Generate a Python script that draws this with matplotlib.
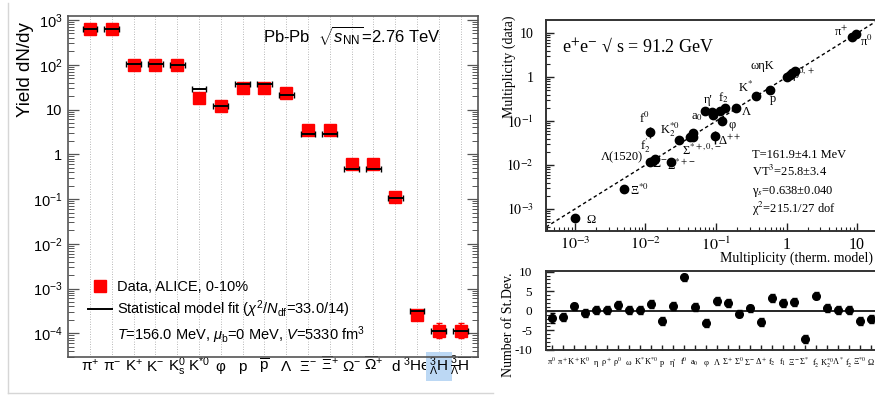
"""Two-panel thermal-model comparison: ALICE Pb-Pb yields (left) and e+e- multiplicities (right)."""

import matplotlib
matplotlib.use("Agg")
import matplotlib.pyplot as plt
import numpy as np
from matplotlib.lines import Line2D
from matplotlib.ticker import LogLocator, NullFormatter, MultipleLocator

plt.rcParams["font.family"] = ["Liberation Sans", "DejaVu Sans"]
plt.rcParams["mathtext.fontset"] = "custom"
plt.rcParams["mathtext.rm"] = "Liberation Sans"
plt.rcParams["mathtext.it"] = "Liberation Sans:italic"
plt.rcParams["mathtext.bf"] = "Liberation Sans:bold"

W, H = 875, 396
SERIF = "Liberation Serif"

# ── Left panel: Pb-Pb yields ───────────────────────────────────────────────
SPECIES = ["π$^{+}$", "π$^{-}$", "K$^{+}$", "K$^{-}$", r"K$^{0}_{\mathrm{s}}$", "K$^{*0}$",
           "φ", "p", r"$\overline{\mathrm{p}}$", "Λ", "Ξ$^{-}$", r"$\overline{\mathrm{Ξ}}^{+}$",
           "Ω$^{-}$", r"$\overline{\mathrm{Ω}}^{+}$", "d", "$^{3}$He",
           r"$^{3}_{\mathrm{Λ}}\mathrm{H}$", r"$^{3}_{\overline{\mathrm{Λ}}}\overline{\mathrm{H}}$"]
YIELD_DATA = [640, 640, 100, 100, 98, 18, 12.3, 30, 30, 23.5, 3.4, 3.4, 0.6, 0.6,
              0.11, 2.5e-4, 1.15e-4, 1.15e-4]
YIELD_ERR_LO = [20, 20, 4, 4, 4, 1.5, 0.8, 1.5, 1.5, 1.5, 0.2, 0.2, 0.05, 0.05,
                0.01, 0.3e-4, 0.37e-4, 0.37e-4]
YIELD_ERR_HI = [20, 20, 4, 4, 4, 1.5, 0.8, 1.5, 1.5, 1.5, 0.2, 0.2, 0.05, 0.05,
                0.01, 0.2e-4, 0.55e-4, 0.55e-4]
YIELD_MODEL = [620, 620, 102, 102, 100, 29, 12, 37, 37, 21.5, 2.8, 2.8, 0.48, 0.48,
               0.105, 3.2e-4, 1.1e-4, 1.1e-4]

# ── Right top: e+e- multiplicities (model vs data) ─────────────────────────
MULT_MODEL = [1.0e-3, 5.0e-3, 0.0117, 0.0129, 0.0138, 0.0115, 0.0229, 0.0297, 0.0427,
              0.0468, 0.0479, 0.0708, 0.087, 0.091, 0.112, 0.133, 0.123, 0.098, 0.19,
              0.363, 0.59, 1.02, 1.10, 1.20, 1.30, 8.5, 9.6]
MULT_DATA = [6.2e-4, 2.8e-3, 0.0115, 0.0126, 0.0138, 0.057, 0.0119, 0.0376, 0.0427,
             0.055, 0.0427, 0.17, 0.158, 0.138, 0.17, 0.195, 0.10, 0.0447, 0.20,
             0.363, 0.51, 1.02, 1.12, 1.25, 1.38, 8.4, 9.5]
MULT_ERR = [6e-5, 3e-4, 1.2e-3, 2e-3, 1.4e-3, 0.015, 1.2e-3, 7e-3, 4e-3, 8e-3, 4e-3,
            0.035, 0.025, 0.028, 0.025, 0.02, 0.008, 0.014, 0.01, 0.018, 0.025,
            0.05, 0.05, 0.06, 0.07, 0.25, 0.28]

# particle annotations (text, x, y in data coords)
MULT_NOTES = [
    ("π$^{+}$", 6.0, 10.9), ("π$^{0}$", 13.3, 6.4), ("ωηK", 0.46, 1.75),
    ("ρ$^{0,+}$", 1.75, 1.13), ("K$^{*}$", 0.26, 0.59), ("p", 0.64, 0.32),
    ("Λ", 0.27, 0.158), ("φ", 0.171, 0.083), ("Δ$^{++}$", 0.155, 0.036),
    ("η'", 0.0765, 0.295), ("f$_{2}$", 0.126, 0.35), ("a$_{0}$", 0.053, 0.127),
    ("f$^{0}$", 0.0095, 0.117), ("K$_{2}^{*0}$", 0.0221, 0.063),
    ("Σ$^{*+,0,-}$", 0.064, 0.021), (r"f$_{2}^{\prime}$", 0.0098, 0.028),
    ("Λ(1520)", 0.0047, 0.0148), ("Ξ$^{-}$", 0.0159, 0.0103),
    ("Σ$^{*+-}$", 0.0324, 0.0098), ("Ξ$^{*0}$", 0.0083, 0.0026),
    ("Ω", 0.0017, 5.7e-4),
]
FIT_TEXT = ["T=161.9±4.1 MeV", "VT$^{3}$=25.8±3.4",
            "γ$_{s}$=0.638±0.040", "χ$^{2}$=215.1/27 dof"]

# ── Right bottom: deviations in standard deviations ────────────────────────
DEV_LABELS = ["π$^0$", "π$^+$", "K$^+$", "K$^0$", "η", "ρ$^+$", "ρ$^0$", "ω", "K$^{*}$",
              "K$^{*0}$", "p", "η'", "f$^0$", "a$_0$", "φ", "Λ", "Σ$^+$", "Σ$^0$", "Σ$^-$",
              "Δ$^+$", "f$_2$", "f$_1$", "Ξ$^-$", "Σ$^*$", r"f$_2^{\prime}$", "K$_2^{*0}$",
              "Λ$^*$", r"f$_2^{\prime}$", "Ξ$^{*0}$", "Ω"]
DEV_VALUES = [-1.8, -1.5, 1.1, -0.6, 0.2, 0.2, 1.5, 0.2, 0.2, 1.75, -2.5, 1.3, 8.5, 0.9,
              -3.1, 2.6, 2.0, -0.7, 0.6, -2.8, 3.2, 2.0, 2.2, -7.3, 3.9, 0.7, 0.2, 0.2,
              -2.6, -2.2]
DEV_ERR = [1.2, 1.0, 1.0, 1.0, 1.0, 1.0, 1.0, 1.0, 1.0, 1.0, 1.0, 1.0, 1.0, 1.0, 1.0,
           1.0, 1.0, 1.0, 1.0, 1.0, 1.0, 1.0, 1.0, 1.0, 1.0, 1.0, 1.0, 1.0, 1.0, 1.0]


def px_rect(x0, y0, x1, y1):
    """Axes rectangle from pixel corners (origin top-left)."""
    return [x0 / W, 1 - y1 / H, (x1 - x0) / W, (y1 - y0) / H]


def main() -> None:
    fig = plt.figure(figsize=(W / 100, H / 100), dpi=100)

    # light frame around the left figure
    fig.add_artist(Line2D([8 / W, 8 / W], [1 - 3 / H, 1 - 393 / H], color="#d6d6d6",
                          lw=1, transform=fig.transFigure))
    fig.add_artist(Line2D([8 / W, 493 / W], [1 - 393 / H, 1 - 393 / H], color="#d6d6d6",
                          lw=1, transform=fig.transFigure))

    # ── Left panel ─────────────────────────────────────────────────────────
    ax = fig.add_axes(px_rect(68, 16, 478, 357))
    x = np.arange(len(SPECIES))
    for xi in x:
        ax.axvline(xi, color="#a0a0a0", ls=(0, (1, 2)), lw=0.6, zorder=0)
    ax.errorbar(x, YIELD_DATA, yerr=[YIELD_ERR_LO, YIELD_ERR_HI], fmt="s", color="red",
                mec="red", ms=8, ecolor="red", elinewidth=1.2, capsize=2, zorder=2)
    ax.errorbar(x, YIELD_MODEL, xerr=0.34, fmt="none", ecolor="black", elinewidth=1.4,
                capsize=2, capthick=1.0, zorder=3)

    ax.set_yscale("log")
    ax.set_xlim(-1.01, 17.8)
    ax.set_ylim(10 ** -4.53, 10 ** 3.09)
    ax.set_yticks([1e-4, 1e-3, 1e-2, 1e-1, 1, 10, 100, 1000])
    ax.set_yticklabels([r"$10^{-4}$", r"$10^{-3}$", r"$10^{-2}$", r"$10^{-1}$", "1", "10",
                        r"$10^{2}$", r"$10^{3}$"], fontsize=10.5)
    ax.yaxis.set_minor_locator(LogLocator(base=10, subs=np.arange(2, 10), numticks=20))
    ax.yaxis.set_minor_formatter(NullFormatter())
    ax.tick_params(axis="y", which="both", direction="in", left=True, right=True, pad=4)
    ax.tick_params(axis="y", which="major", length=8, width=0.9, color="#555555")
    ax.tick_params(axis="y", which="minor", length=4.5, width=0.7, color="#555555")

    ax.set_xticks(x)
    ax.set_xticklabels(SPECIES, fontsize=11)
    ax.tick_params(axis="x", length=0, pad=10)
    for lab in ax.get_xticklabels():
        lab.set_va("baseline")
    ax.get_xticklabels()[16].set_bbox(dict(boxstyle="square,pad=0.2", fc="#bcd8f4", ec="none"))
    for sp in ax.spines.values():
        sp.set_color("#555555")
        sp.set_linewidth(1.2)

    ax.text(0.476, 0.944, r"Pb-Pb  $\sqrt{s_{\mathrm{NN}}}$=2.76 TeV", transform=ax.transAxes,
            fontsize=12, va="center")

    handles = [Line2D([], [], marker="s", color="red", ls="none", ms=8),
               Line2D([], [], color="black", lw=1.4),
               Line2D([], [], color="none")]
    labels = ["Data, ALICE, 0-10%",
              r"Statistical model fit ($\chi^{2}/N_{\mathrm{df}}$=33.0/14)",
              r"$T$=156.0 MeV, $\mu_{\mathrm{b}}$=0 MeV, $V$=5330 fm$^{3}$"]
    ax.legend(handles, labels, loc="upper left", bbox_to_anchor=(0.049, 0.225),
              frameon=False, fontsize=10.5, handlelength=1.65, handletextpad=0.35,
              labelspacing=0.3, borderpad=0, borderaxespad=0)

    fig.text(25 / W, 1 - 70 / H, "Yield dN/dy", rotation=90, fontsize=13.5,
             ha="center", va="center")

    # ── Right top panel ────────────────────────────────────────────────────
    serif_kw = dict(family=SERIF, math_fontfamily="stix")
    ax2 = fig.add_axes(px_rect(546, 20, 891, 231))
    ax2.set_xscale("log")
    ax2.set_yscale("log")
    ax2.set_xlim(10 ** -3.41, 10 ** 1.48)
    ax2.set_ylim(10 ** -3.5, 10 ** 1.3)
    diag = np.array(ax2.get_xlim())
    ax2.plot(diag, diag, ls=(0, (2.5, 2)), color="black", lw=1.0, zorder=1)
    ax2.errorbar(MULT_MODEL, MULT_DATA, yerr=MULT_ERR, fmt="o", color="black", ms=6,
                 elinewidth=1.0, capsize=0, zorder=3)
    for txt, tx, ty in MULT_NOTES:
        ax2.text(tx, ty, txt, fontsize=9, ha="center", va="center", **serif_kw)
    for i, line in enumerate(FIT_TEXT):
        ax2.text(0.596, [0.36, 0.28, 0.186, 0.103][i], line, transform=ax2.transAxes,
                 fontsize=9, va="center", **serif_kw)
    ax2.text(0.0455, 0.873, "e$^{+}$e$^{-}$ √ s = 91.2 GeV", transform=ax2.transAxes,
             fontsize=13, va="center", **serif_kw)

    ax2.set_xticks([1e-3, 1e-2, 1e-1, 1, 10])
    ax2.set_xticklabels([r"$10^{-3}$", r"$10^{-2}$", r"$10^{-1}$", "1", "10"],
                        fontsize=11.5, **serif_kw)
    ax2.set_yticks([1e-3, 1e-2, 1e-1, 1, 10])
    ax2.set_yticklabels([r"$10^{-3}$", r"$10^{-2}$", r"$10^{-1}$", "1", "10"],
                        fontsize=10, **serif_kw)
    for axis in (ax2.xaxis, ax2.yaxis):
        axis.set_minor_locator(LogLocator(base=10, subs=np.arange(2, 10), numticks=20))
        axis.set_minor_formatter(NullFormatter())
    ax2.tick_params(which="both", direction="in", top=False, right=False, color="#222222")
    ax2.tick_params(which="major", length=6, width=1.0)
    ax2.tick_params(which="minor", length=3, width=0.8)
    ax2.tick_params(axis="y", pad=9)
    ax2.tick_params(axis="x", pad=4)
    for sp in ax2.spines.values():
        sp.set_linewidth(1.4)
        sp.set_color("#333333")

    fig.text(509 / W, 1 - 67 / H, "Multiplicity (data)", rotation=90, fontsize=10,
             ha="center", va="center", family=SERIF)
    fig.text(720 / W, 1 - 258 / H, "Multiplicity (therm. model)", fontsize=10,
             ha="left", va="center", family=SERIF)

    # ── Right bottom panel ─────────────────────────────────────────────────
    ax3 = fig.add_axes(px_rect(546, 271, 891, 350))
    xd = np.arange(len(DEV_VALUES))
    ax3.axhline(0, color="black", lw=1.2, zorder=1)
    ax3.errorbar(xd, DEV_VALUES, yerr=DEV_ERR, fmt="o", color="black", ms=5.5,
                 elinewidth=1.0, capsize=1.8, capthick=1.0, zorder=3)
    ax3.set_xlim(-0.52, 30.85)
    ax3.set_ylim(-10, 10.15)
    ax3.set_yticks([-10, -5, 0, 5, 10])
    ax3.set_yticklabels(["-10", "-5", "0", "5", "10"], fontsize=9.5, **serif_kw)
    ax3.yaxis.set_minor_locator(MultipleLocator(1))
    ax3.set_xticks(xd)
    ax3.set_xticklabels(DEV_LABELS, fontsize=6, **serif_kw)
    for lab in ax3.get_xticklabels():
        lab.set_va("baseline")
    ax3.tick_params(which="both", direction="in", top=False, right=False, color="#222222")
    ax3.tick_params(axis="x", length=3.5, width=1.0, pad=11)
    ax3.tick_params(axis="y", which="major", length=6, width=1.0, pad=10)
    ax3.tick_params(axis="y", which="minor", length=3, width=0.8)
    for sp in ax3.spines.values():
        sp.set_linewidth(1.4)
        sp.set_color("#333333")

    fig.text(509 / W, 1 - 325 / H, "Number of St.Dev.", rotation=90, fontsize=10,
             ha="center", va="center", family=SERIF)

    fig.savefig("out.png", dpi=100)
    plt.close(fig)


if __name__ == "__main__":
    main()
